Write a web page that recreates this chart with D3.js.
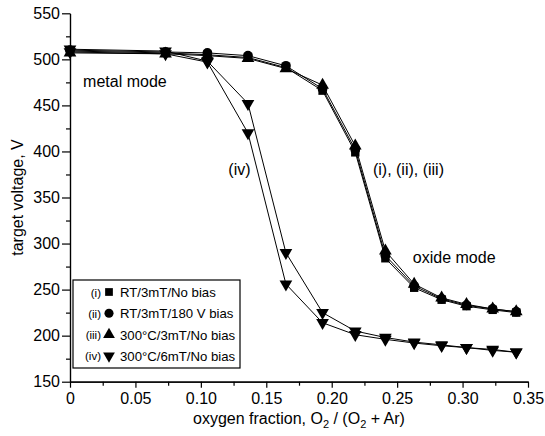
<!DOCTYPE html>
<html>
<head>
<meta charset="utf-8">
<script src="https://cdn.jsdelivr.net/npm/d3@7"></script>
<style>
  body { margin: 0; background: #fff; }
  svg { font-family: "Liberation Sans", Arial, Helvetica, sans-serif; }
</style>
</head>
<body>
<div id="chart"></div>
<script>
let width = 545,
    height = 436,
    margin = ({ top: 13.3, right: 17, bottom: 54.3, left: 70 });

// oxygen fraction positions of the measurement points
const xs = [0, 0.073, 0.105, 0.136, 0.165, 0.193, 0.218, 0.241, 0.263, 0.284, 0.303, 0.323, 0.341];

// target voltage (V) for each run
const rt3Nobias   = [509, 507, 505, 502, 491, 466, 399, 284, 252, 239, 232, 228, 225];
const rt3Bias180  = [510, 508, 507, 504, 493, 468, 402, 287, 254, 240, 233, 229, 226];
const hot3Nobias  = [507, 506, 504, 501, 490, 472, 406, 292, 256, 241, 234, 229, 226];
const hot6Up      = [511, 509, 498, 452, 290, 225, 205, 198, 193, 190, 187, 185, 182];
const hot6Down    = [508, 506, 497, 420, 256, 214, 201, 196, 192, 189, 187, 184, 182];

const xTicks = [0, 0.05, 0.10, 0.15, 0.20, 0.25, 0.30, 0.35];
const yTicks = [150, 200, 250, 300, 350, 400, 450, 500, 550];

const legendLabels = ["(i)", "(ii)", "(iii)", "(iv)"];
const legendNames = ["RT/3mT/No bias", "RT/3mT/180 V bias", "300°C/3mT/No bias", "300°C/6mT/No bias"];

const series = [
  { values: rt3Nobias, symbol: d3.symbolSquare, size: 70 },
  { values: rt3Bias180, symbol: d3.symbolCircle, size: 75 },
  { values: hot3Nobias, symbol: d3.symbolTriangle, size: 70, rot: 0 },
  { values: hot6Up, symbol: d3.symbolTriangle, size: 70, rot: 180 },
  { values: hot6Down, symbol: d3.symbolTriangle, size: 70, rot: 180 }
];

const svg = d3.select("#chart")
  .append("svg")
  .attr("width", width)
  .attr("height", height);

let x = d3.scaleLinear()
  .domain([0, 0.35])
  .range([margin.left, width - margin.right]);

let y = d3.scaleLinear()
  .domain([150, 550])
  .range([height - margin.bottom, margin.top]);

// minor ticks first, then major ones
svg.append("g")
  .attr("transform", `translate(0,${height - margin.bottom})`)
  .call(d3.axisBottom(x).tickValues(d3.range(0.025, 0.35, 0.05)).tickFormat("").tickSize(4).tickSizeOuter(0));
svg.append("g")
  .attr("transform", `translate(${margin.left},0)`)
  .call(d3.axisLeft(y).tickValues(d3.range(175, 550, 50)).tickFormat("").tickSize(4).tickSizeOuter(0));

svg.append("g")
  .attr("class", "x-axis")
  .attr("transform", `translate(0,${height - margin.bottom})`)
  .call(d3.axisBottom(x).tickValues(xTicks).tickFormat(d => d === 0 ? "0" : d.toFixed(2)).tickSize(6).tickSizeOuter(0).tickPadding(5));

svg.append("g")
  .attr("class", "y-axis")
  .attr("transform", `translate(${margin.left},0)`)
  .call(d3.axisLeft(y).tickValues(yTicks).tickSize(8).tickSizeOuter(0).tickPadding(2));

svg.selectAll(".x-axis text, .y-axis text")
  .attr("font-size", 16)
  .attr("font-family", "Liberation Sans, Arial, sans-serif")
  .attr("fill", "#000");
svg.selectAll(".domain, .tick line").attr("stroke", "#000").attr("stroke-width", 1.2);

const line = d3.line()
  .x((d, i) => x(xs[i]))
  .y(d => y(d));

series.forEach(s => {
  svg.append("path")
    .datum(s.values)
    .attr("fill", "none")
    .attr("stroke", "#000")
    .attr("stroke-width", 1)
    .attr("d", line);
});

series.forEach(s => {
  svg.append("g")
    .selectAll("path")
    .data(s.values)
    .join("path")
    .attr("transform", (d, i) => `translate(${x(xs[i])},${y(d)}) rotate(${s.rot || 0})`)
    .attr("d", d3.symbol().type(s.symbol).size(s.size))
    .attr("fill", "#000");
});

// annotations
const notes = [
  { text: "metal mode", x: 0.01, y: 470 },
  { text: "(iv)", x: 0.121, y: 374 },
  { text: "(i), (ii), (iii)", x: 0.2315, y: 374 },
  { text: "oxide mode", x: 0.262, y: 279 }
];
svg.append("g")
  .selectAll("text")
  .data(notes)
  .join("text")
  .attr("x", d => x(d.x))
  .attr("y", d => y(d.y))
  .attr("font-size", 16)
  .text(d => d.text);

// legend
const legend = svg.append("g").attr("transform", "translate(73,280)");
legend.append("rect")
  .attr("width", 167)
  .attr("height", 88)
  .attr("fill", "#fff")
  .attr("stroke", "#000")
  .attr("stroke-width", 1.2);

const legendShapes = [
  { symbol: d3.symbolSquare, size: 60, rot: 0 },
  { symbol: d3.symbolCircle, size: 65, rot: 0 },
  { symbol: d3.symbolTriangle, size: 60, rot: 0 },
  { symbol: d3.symbolTriangle, size: 60, rot: 180 }
];

legendLabels.forEach((lab, i) => {
  const row = legend.append("g").attr("transform", `translate(0,${12 + i * 21.3})`);
  row.append("text")
    .attr("x", 28)
    .attr("y", 4.5)
    .attr("text-anchor", "end")
    .attr("font-size", 11.5)
    .text(lab);
  row.append("path")
    .attr("transform", `translate(36,0) rotate(${legendShapes[i].rot})`)
    .attr("d", d3.symbol().type(legendShapes[i].symbol).size(legendShapes[i].size))
    .attr("fill", "#000");
  row.append("text")
    .attr("x", 47)
    .attr("y", 5)
    .attr("font-size", 13.2)
    .text(legendNames[i]);
});

// axis titles
const xt = svg.append("text")
  .attr("x", (margin.left + width - margin.right) / 2)
  .attr("y", 424)
  .attr("text-anchor", "middle")
  .attr("font-size", 16);
xt.append("tspan").text("oxygen fraction, O");
xt.append("tspan").attr("font-size", 11).attr("dy", 4).text("2");
xt.append("tspan").attr("dy", -4).text(" / (O");
xt.append("tspan").attr("font-size", 11).attr("dy", 4).text("2");
xt.append("tspan").attr("dy", -4).text(" + Ar)");

svg.append("text")
  .attr("transform", `translate(23,${(margin.top + height - margin.bottom) / 2}) rotate(-90)`)
  .attr("text-anchor", "middle")
  .attr("font-size", 16)
  .text("target voltage, V");
</script>
</body>
</html>
